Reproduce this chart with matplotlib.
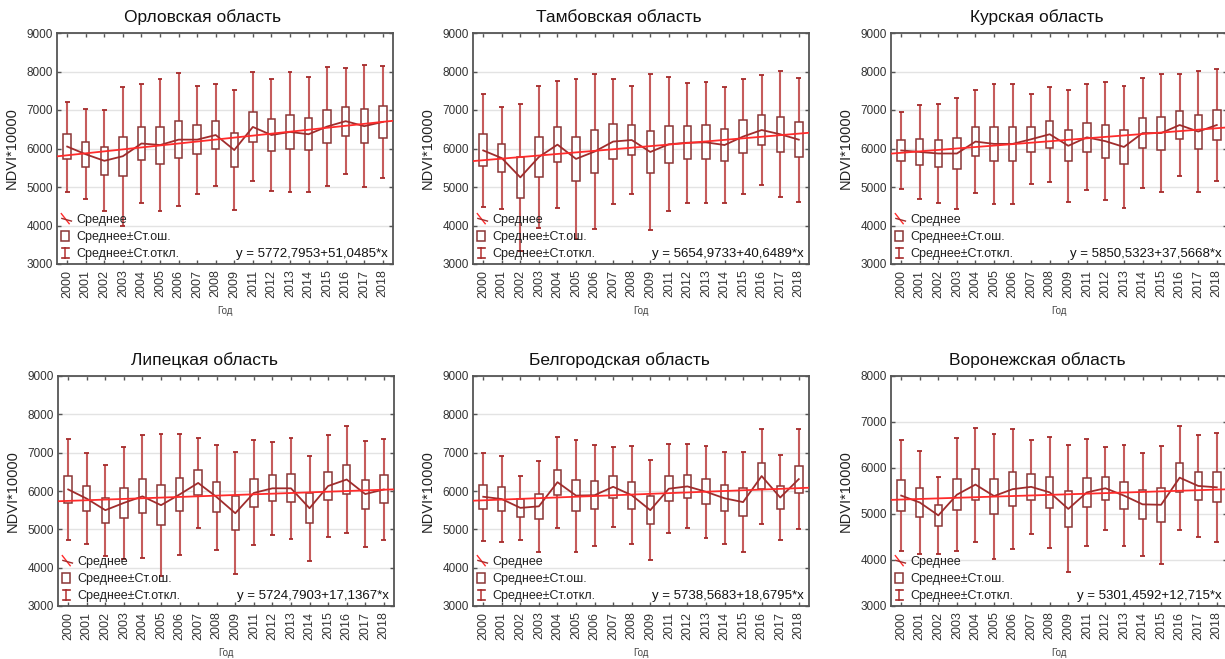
import matplotlib
matplotlib.use('Agg')
import matplotlib.pyplot as plt
from matplotlib.lines import Line2D
from matplotlib.patches import Rectangle
from matplotlib.legend_handler import HandlerBase

plt.rcParams['font.family'] = ['Liberation Sans', 'DejaVu Sans']

# ---------------- data ----------------
years = ['2000', '2001', '2002', '2003', '2004', '2005', '2006', '2007', '2008',
         '2009', '2011', '2012', '2013', '2014', '2015', '2016', '2017', '2018']

titles = ['Орловская область', 'Тамбовская область', 'Курская область',
          'Липецкая область', 'Белгородская область', 'Воронежская область']

intercepts = [5772.7953, 5654.9733, 5850.5323, 5724.7903, 5738.5683, 5301.4592]
slopes = [51.0485, 40.6489, 37.5668, 17.1367, 18.6795, 12.715]

ymax_list = [9000, 9000, 9000, 9000, 9000, 8000]

orel_mean = [6050, 5850, 5680, 5800, 6130, 6090, 6230, 6230, 6350, 5960, 6560, 6350, 6430, 6370, 6570, 6710, 6580, 6690]
orel_se = [330, 330, 360, 505, 430, 480, 480, 385, 365, 430, 390, 410, 440, 415, 425, 380, 440, 410]
orel_sd = [1170, 1170, 1310, 1810, 1535, 1715, 1735, 1405, 1335, 1550, 1415, 1465, 1565, 1490, 1540, 1370, 1585, 1460]

tambov_mean = [5950, 5750, 5250, 5780, 6100, 5730, 5920, 6180, 6220, 5910, 6110, 6150, 6160, 6090, 6310, 6480, 6370, 6230]
tambov_se = [415, 370, 530, 510, 455, 580, 555, 445, 390, 555, 485, 435, 440, 420, 425, 395, 455, 450]
tambov_sd = [1470, 1330, 1905, 1855, 1655, 2080, 2020, 1615, 1395, 2020, 1745, 1555, 1580, 1510, 1500, 1420, 1635, 1610]

kursk_mean = [5950, 5910, 5870, 5870, 6180, 6120, 6120, 6240, 6370, 6070, 6290, 6190, 6040, 6400, 6400, 6610, 6440, 6610]
kursk_se = [280, 340, 355, 400, 380, 440, 435, 325, 355, 405, 385, 430, 435, 395, 430, 375, 440, 400]
kursk_sd = [1005, 1215, 1280, 1435, 1330, 1565, 1555, 1165, 1240, 1460, 1375, 1540, 1575, 1425, 1535, 1325, 1570, 1450]

lipetsk_mean = [6040, 5800, 5500, 5690, 5860, 5630, 5910, 6210, 5840, 5420, 5950, 6070, 6070, 5550, 6130, 6300, 5920, 6040]
lipetsk_se = [355, 325, 330, 400, 445, 515, 440, 325, 385, 440, 375, 335, 365, 385, 370, 385, 380, 365]
lipetsk_sd = [1315, 1195, 1190, 1455, 1600, 1860, 1590, 1165, 1370, 1585, 1370, 1215, 1310, 1375, 1340, 1385, 1375, 1325]

belgorod_mean = [5850, 5790, 5560, 5600, 6230, 5880, 5890, 6110, 5890, 5500, 6060, 6120, 5980, 5810, 5710, 6390, 5830, 6310]
belgorod_se = [315, 310, 230, 330, 330, 410, 365, 290, 355, 360, 325, 305, 330, 335, 360, 340, 300, 350]
belgorod_sd = [1150, 1120, 835, 1195, 1185, 1460, 1315, 1045, 1275, 1300, 1165, 1095, 1200, 1195, 1310, 1240, 1110, 1305]

voronezh_mean = [5400, 5250, 4970, 5420, 5640, 5390, 5540, 5590, 5470, 5110, 5470, 5560, 5400, 5210, 5200, 5790, 5610, 5580]
voronezh_se = [340, 310, 230, 335, 345, 380, 365, 285, 335, 385, 320, 250, 300, 315, 365, 315, 305, 325]
voronezh_sd = [1215, 1115, 830, 1230, 1240, 1360, 1310, 1015, 1205, 1380, 1165, 900, 1100, 1120, 1285, 1130, 1100, 1180]

means = [orel_mean, tambov_mean, kursk_mean, lipetsk_mean, belgorod_mean, voronezh_mean]
ses = [orel_se, tambov_se, kursk_se, lipetsk_se, belgorod_se, voronezh_se]
sds = [orel_sd, tambov_sd, kursk_sd, lipetsk_sd, belgorod_sd, voronezh_sd]

# ---------------- style ----------------
BOX_EDGE = '#8a3535'
WHISK = '#c65c5c'
CAP = '#a52a2a'
MEAN_C = '#a02c2c'
REG_C = '#ff2b2b'
SPINE = '#555555'
TXT = '#333333'

W, H = 1225, 659
fig = plt.figure(figsize=(W / 100, H / 100), dpi=100)
fig.patch.set_facecolor('white')

# axes positions in pixels: (left, top, width, height)
pos_px = [(57, 33, 336, 231), (473, 33, 336, 231), (891, 33, 336, 231),
          (58, 376, 336, 230), (473, 376, 336, 230), (891, 376, 336, 230)]


class HandlerMean(HandlerBase):
    def create_artists(self, legend, orig_handle, xd, yd, width, height, fontsize, trans):
        x0, y0 = -xd, -yd
        a = Line2D([x0 + 0.05 * width, x0 + 0.75 * width],
                   [y0 + 1.1 * height, y0 - 0.05 * height], color=REG_C, lw=1.0)
        b = Line2D([x0 + 0.1 * width, x0 + 0.95 * width],
                   [y0 + 0.55 * height, y0 + 0.25 * height], color=MEAN_C, lw=1.0)
        for art in (a, b):
            art.set_transform(trans)
        return [a, b]


class HandlerBox(HandlerBase):
    def create_artists(self, legend, orig_handle, xd, yd, width, height, fontsize, trans):
        x0, y0 = -xd, -yd
        r = Rectangle((x0 + 0.05 * width, y0 - 0.1 * height), 0.7 * width, 1.2 * height,
                      facecolor='white', edgecolor=BOX_EDGE, lw=1.1, transform=trans)
        return [r]


class HandlerWhisker(HandlerBase):
    def create_artists(self, legend, orig_handle, xd, yd, width, height, fontsize, trans):
        x0, y0 = -xd, -yd
        xc = x0 + 0.4 * width
        v = Line2D([xc, xc], [y0 - 0.1 * height, y0 + 1.1 * height], color=WHISK, lw=1.4)
        c1 = Line2D([xc - 0.3 * width, xc + 0.3 * width], [y0 + 1.1 * height] * 2, color=CAP, lw=1.2)
        c2 = Line2D([xc - 0.3 * width, xc + 0.3 * width], [y0 - 0.1 * height] * 2, color=CAP, lw=1.2)
        for art in (v, c1, c2):
            art.set_transform(trans)
        return [v, c1, c2]


for i in range(6):
    l, t, w, h = pos_px[i]
    ax = fig.add_axes([l / W, 1 - (t + h) / H, w / W, h / H])
    x = list(range(len(years)))
    m = means[i]
    se = ses[i]
    sd = sds[i]
    ymax = ymax_list[i]

    ax.set_xlim(-0.55, len(years) - 1 + 0.55)
    ax.set_ylim(3000, ymax)
    ax.set_yticks(range(3000, ymax + 1, 1000))
    ax.yaxis.grid(True, color='#e3e3e3', lw=1.0)
    ax.set_axisbelow(True)

    lo_sd = [mm - s for mm, s in zip(m, sd)]
    hi_sd = [mm + s for mm, s in zip(m, sd)]
    ax.vlines(x, lo_sd, hi_sd, color=WHISK, lw=1.5, zorder=2)
    ax.hlines(lo_sd, [xx - 0.13 for xx in x], [xx + 0.13 for xx in x], color=CAP, lw=1.3, zorder=2)
    ax.hlines(hi_sd, [xx - 0.13 for xx in x], [xx + 0.13 for xx in x], color=CAP, lw=1.3, zorder=2)

    ax.bar(x, [2 * s for s in se], bottom=[mm - s for mm, s in zip(m, se)], width=0.4,
           facecolor='white', edgecolor=BOX_EDGE, lw=1.1, zorder=3)

    ax.plot(x, m, color=MEAN_C, lw=1.3, zorder=4)

    xr = [-0.55, len(years) - 1 + 0.55]
    yr = [intercepts[i] + slopes[i] * (xx + 1) for xx in xr]
    ax.plot(xr, yr, color=REG_C, lw=1.3, zorder=5)

    ax.set_xticks(x)
    ax.set_xticklabels(years, rotation=90, fontsize=9, color=TXT)
    ax.tick_params(axis='x', direction='in', top=True, length=3, pad=4, color=SPINE, width=1)
    ax.tick_params(axis='y', direction='in', right=True, length=3, labelsize=8.5,
                   labelcolor=TXT, color=SPINE, width=1, pad=3)
    for sp in ax.spines.values():
        sp.set_color(SPINE)
        sp.set_linewidth(1.3)

    ax.set_ylabel('NDVI*10000', fontsize=10.5, color='#222222')
    ax.yaxis.set_label_coords(-38 / w, 0.5)

    ax.text(146 / w, 1 + 16 / h, titles[i], transform=ax.transAxes, ha='center',
            va='center', fontsize=12.5, color='#111111')
    ax.text(0.5, -47 / h, 'Год', transform=ax.transAxes, ha='center', va='center',
            fontsize=7, color='#444444')

    eq = 'y = %s+%s*x' % (str(intercepts[i]).replace('.', ','), str(slopes[i]).replace('.', ','))
    ax.text(1 - 5 / w, 10 / h, eq, transform=ax.transAxes, ha='right', va='center',
            fontsize=9.5, color='#111111', zorder=6)

    handles = [Line2D([], []), Rectangle((0, 0), 1, 1), Line2D([], [], marker='|')]
    leg = ax.legend(handles, ['Среднее', 'Среднее±Ст.ош.', 'Среднее±Ст.откл.'],
                    handler_map={handles[0]: HandlerMean(), handles[1]: HandlerBox(),
                                 handles[2]: HandlerWhisker()},
                    loc='lower left', bbox_to_anchor=(0, 0), borderaxespad=0.1,
                    frameon=False, fontsize=9, handlelength=0.9, handletextpad=0.35,
                    labelspacing=0.4, borderpad=0.2)
    for txt in leg.get_texts():
        txt.set_color('#222222')
    leg.set_zorder(6)

fig.savefig('out.png', dpi=100, facecolor='white')
